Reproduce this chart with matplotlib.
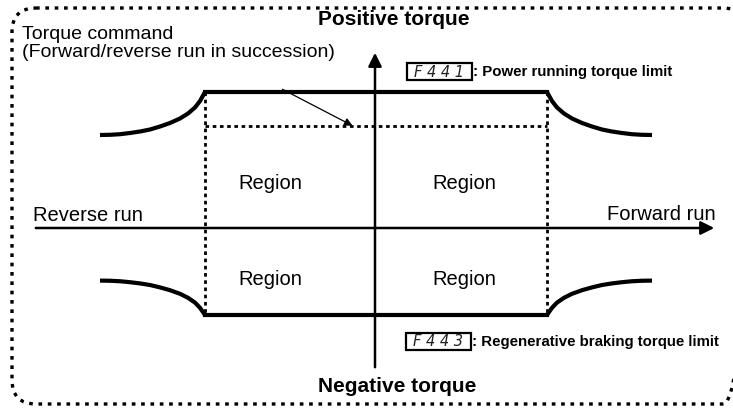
import matplotlib
matplotlib.use('Agg')
import matplotlib.pyplot as plt
from matplotlib.patches import FancyBboxPatch, Rectangle
from matplotlib.font_manager import fontManager

# diagram values, in picture pixels (y grows downward)
axis_y = 228
axis_x = 375
run_span = [33, 717]
torque_span = [370, 50]

limit_pos = 92
limit_neg = 315
command_level = 126
const_span = [205, 547]

# field weakening curve, left-top part (mirrored for the others)
curve_x = [100, 110, 120, 130, 140, 150, 160, 170, 180, 188, 195, 200, 205]
curve_dy = [43, 42.8, 42.2, 41, 39.5, 37.5, 34.5, 31, 26.5, 21.5, 15.5, 9, 0]

region_x = [270, 464]
region_y = [189, 285]
region_label = 'Region'

names = [f.name for f in fontManager.ttflist]
narrow = 'Liberation Sans Narrow' if 'Liberation Sans Narrow' in names else 'Liberation Sans'
plt.rcParams['font.family'] = ['Liberation Sans', 'DejaVu Sans']

fig = plt.figure(figsize=(7.33, 4.12), dpi=100)
ax = fig.add_axes([0, 0, 1, 1])
ax.set_xlim(0, 733)
ax.set_ylim(412, 0)
ax.axis('off')

# dotted frame
frame = FancyBboxPatch((12, 8), 735, 396, boxstyle='round,pad=0,rounding_size=24',
                       fill=False, lw=2.4, ls=(0, (1.1, 1.7)), ec='black')
ax.add_patch(frame)

# axes arrows
ax.annotate('', xy=(run_span[1], axis_y), xytext=(run_span[0], axis_y),
            arrowprops=dict(arrowstyle='-|>', lw=1.8, color='black', mutation_scale=20))
ax.annotate('', xy=(axis_x, torque_span[1]), xytext=(axis_x, torque_span[0]),
            arrowprops=dict(arrowstyle='-|>', lw=1.8, color='black', mutation_scale=20))

# torque limits
ax.plot(const_span, [limit_pos, limit_pos], color='black', lw=3)
ax.plot(const_span, [limit_neg, limit_neg], color='black', lw=3)
left = const_span[0]
right = const_span[1]
cx_right = [left + right - x for x in curve_x]
for cx in (curve_x, cx_right):
    ax.plot(cx, [limit_pos + d for d in curve_dy], color='black', lw=3, solid_capstyle='butt')
    ax.plot(cx, [limit_neg - d * 0.8 for d in curve_dy], color='black', lw=3, solid_capstyle='butt')

# torque command (dotted)
dot = dict(color='black', lw=2, ls=(0, (1.3, 1.3)))
ax.plot(const_span, [command_level, command_level], **dot)
ax.plot([left, left], [limit_pos, limit_neg], **dot)
ax.plot([right, right], [limit_pos, limit_neg], **dot)

# region labels
for rx in region_x:
    for ry in region_y:
        ax.text(rx, ry, region_label, fontsize=14.5, ha='center', va='baseline')

ax.text(33, 221, 'Reverse run', fontsize=14.5, ha='left', va='baseline')
ax.text(716, 220, 'Forward run', fontsize=14.5, ha='right', va='baseline')
ax.text(318, 25, 'Positive torque', fontsize=15, weight='bold', ha='left', va='baseline')
ax.text(318, 392, 'Negative torque', fontsize=15, weight='bold', ha='left', va='baseline')
ax.text(22, 39, 'Torque command', fontsize=14, ha='left', va='baseline')
ax.text(22, 57, '(Forward/reverse run in succession)', fontsize=14, ha='left', va='baseline')
ax.annotate('', xy=(355, 127), xytext=(280, 88),
            arrowprops=dict(arrowstyle='-|>', lw=0.9, color='black', mutation_scale=12))

# parameter boxes
for code, bx, by, label in [('F441', 407, 63, ': Power running torque limit'),
                            ('F443', 406, 333, ': Regenerative braking torque limit')]:
    ax.add_patch(Rectangle((bx, by), 65, 17, fill=False, lw=1.6, ec='black'))
    ax.text(bx + 32, by + 9, ' '.join(code), fontsize=10.5, style='italic', family='DejaVu Sans',
            weight='light', ha='center', va='center', color='#222222')
    ax.text(bx + 66, by + 9, label, fontsize=10.8, weight='bold', family=[narrow, 'Liberation Sans'],
            ha='left', va='center')

fig.savefig('out.png', dpi=100)
